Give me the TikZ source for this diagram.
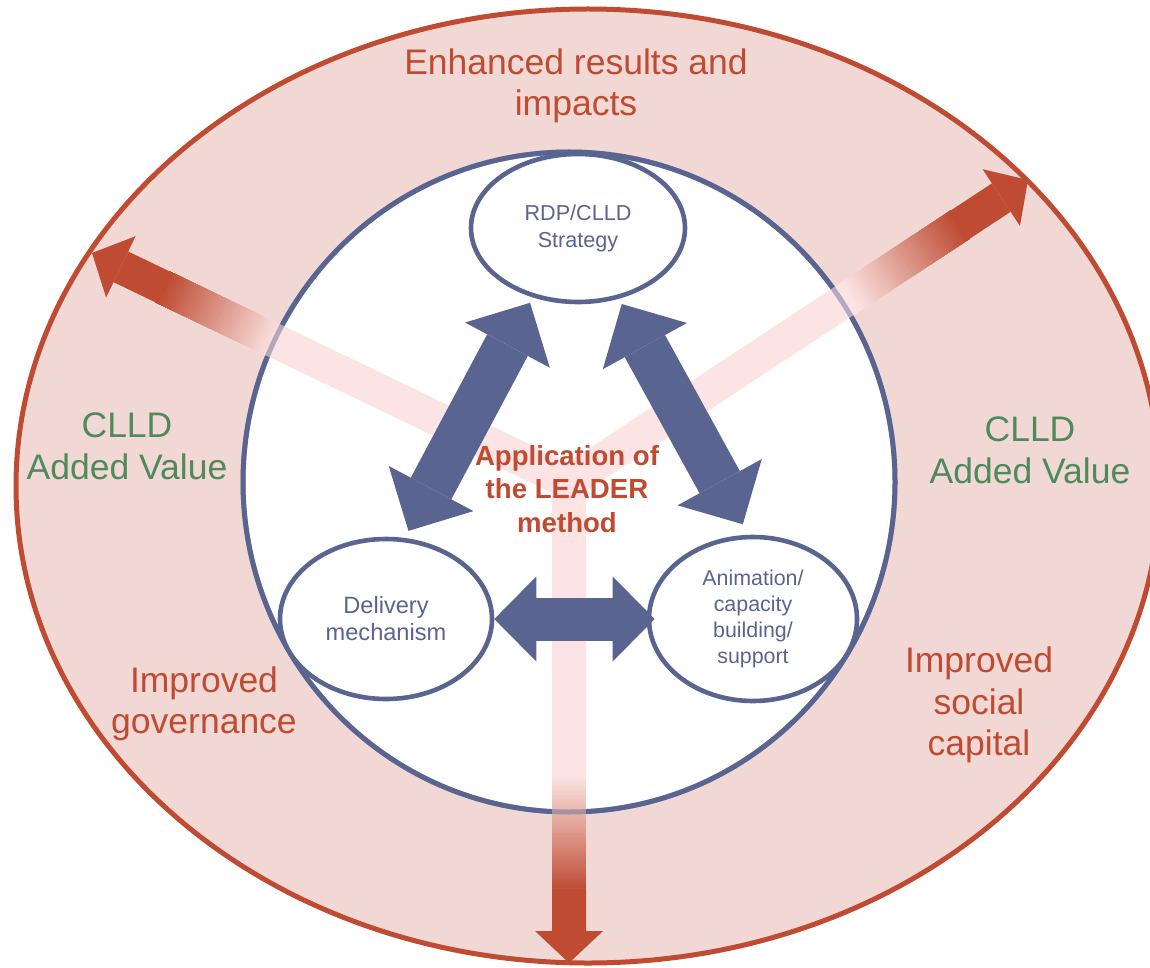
\documentclass[tikz,border=0pt]{standalone}
\usepackage{fontspec}
\setmainfont{Liberation Sans}
\usetikzlibrary{shapes.geometric, arrows.meta, calc}

\definecolor{ringPink}{RGB}{242,216,212}
\definecolor{impactRed}{RGB}{190,75,50}
\definecolor{leaderBlue}{RGB}{90,100,144}
\definecolor{valueGreen}{RGB}{78,138,94}
\definecolor{stripePink}{RGB}{252,228,228}

\begin{document}
\begin{tikzpicture}[x = 0.5pt, y = -0.5pt,
    bigText/.style = {align = center, font = \fontsize{17.75}{20.8}\selectfont},
    smallEllipse/.style = {ellipse, draw = leaderBlue, line width = 2.3pt, fill = white, inner sep = 0pt, text = leaderBlue, align = center},
    blueArrow/.style = {leaderBlue, line width = 23pt, > = {Triangle[length = 24pt, width = 48pt, line width = 0pt]}, <->},
    flatArrow/.style = {leaderBlue, line width = 21.5pt, > = {Triangle[length = 21pt, width = 42.5pt, line width = 0pt]}, <->},
    impactStripe/.style = {line width = 17pt}
  ]
  \useasboundingbox (0, 0) rectangle (1150, 968);
  \clip (0, 0) rectangle (1150, 968);

  % outer ring and inner circle
  \node[ellipse, draw = impactRed, fill = ringPink, line width = 2.5pt, minimum width = 572pt, minimum height = 477pt, inner sep = 0pt] (outerRing) at (588, 486) {};
  \node[ellipse, draw = leaderBlue, fill = white, line width = 2.5pt, minimum width = 326pt, minimum height = 330pt, inner sep = 0pt] (innerCircle) at (569, 482) {};

  % arrows going out to the ring
  \coordinate (hub) at (569, 482);
  \coordinate (tipLeft) at (92, 253);
  \coordinate (tipRight) at (1028, 180);
  \coordinate (tipDown) at (569, 963);
  \fill[stripePink] (hub) circle (17);
  \foreach \target in {tipLeft, tipRight, tipDown} {
    \draw[impactStripe, stripePink] (hub) -- ($(hub)!0.615!(\target)$);
    \foreach \k in {0, ..., 47} {
      \pgfmathsetmacro{\from}{0.61 + 0.005 * \k}
      \pgfmathtruncatemacro{\mix}{100 * \k / 47}
      \draw[impactStripe, impactRed!\mix!stripePink] ($(hub)!\from!(\target)$) -- ($(hub)!0.852!(\target)$);
    }
    \draw[impactStripe, impactRed, -{Triangle[length = 16pt, width = 34pt, line width = 0pt]}] ($(hub)!0.848!(\target)$) -- (\target);
  }
  \draw[leaderBlue, line width = 2.5pt, draw opacity = 0.45] (innerCircle.center) ellipse [x radius = 326, y radius = 330];

  % the three parts of the method
  \node[smallEllipse, minimum width = 107pt, minimum height = 74pt, font = \fontsize{10.8}{13.5}\selectfont] (strategyNode) at (578, 228) {RDP/CLLD\\Strategy};
  \node[smallEllipse, minimum width = 106pt, minimum height = 80pt, font = \fontsize{11.8}{13.5}\selectfont] (deliveryNode) at (386, 619) {Delivery\\mechanism};
  \node[smallEllipse, minimum width = 104pt, minimum height = 82pt, font = \fontsize{10.7}{13}\selectfont] (animationNode) at (753, 619) {Animation/\\capacity\\building/\\support};

  \draw (strategyNode.237) edge[blueArrow, shorten < = 3pt, shorten > = 4pt] (deliveryNode.77);
  \draw (strategyNode.300) edge[blueArrow, shorten < = 3pt, shorten > = 6pt] (animationNode.93);
  \draw (deliveryNode.east) edge[flatArrow, shorten > = -4pt] (animationNode.west);

  % labels
  \node[bigText, text = impactRed] (resultsText) at (576, 86) {Enhanced results and\\impacts};
  \node[bigText, text = valueGreen] (valueLeft) at (127, 446) {CLLD\\Added Value};
  \node[bigText, text = valueGreen] (valueRight) at (1030, 450) {CLLD\\Added Value};
  \node[bigText, text = impactRed] (governanceText) at (204, 704) {Improved\\governance};
  \node[bigText, text = impactRed] (capitalText) at (979, 705) {Improved\\social\\capital};
  \node[align = center, text = impactRed, font = \bfseries\fontsize{13.8}{16.8}\selectfont] (methodText) at (567, 489) {Application of\\the LEADER\\method};
\end{tikzpicture}
\end{document}
